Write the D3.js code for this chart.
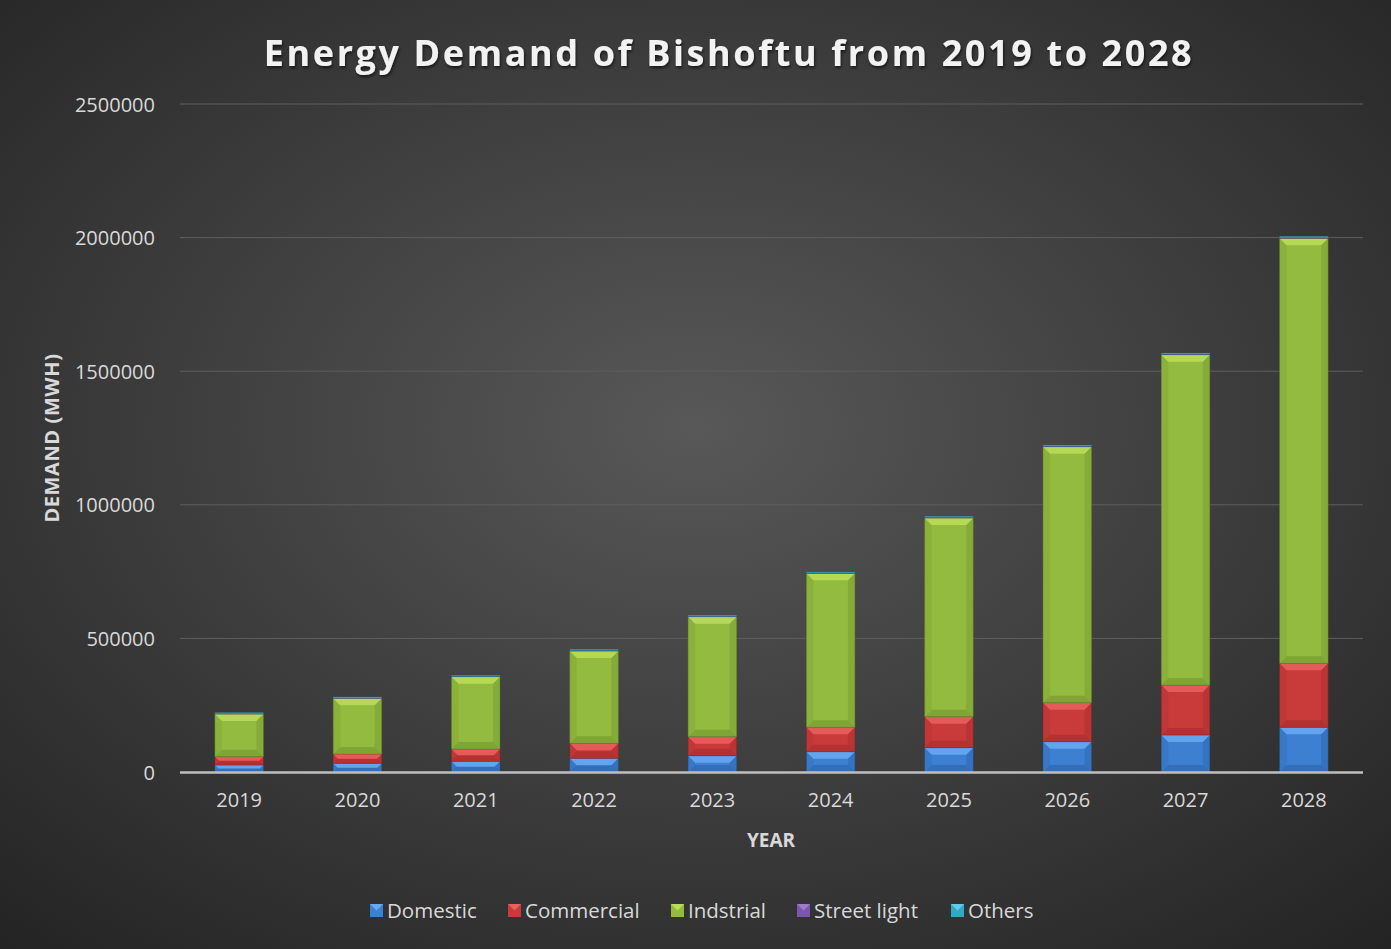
<!DOCTYPE html>
<html>
<head>
<meta charset="utf-8">
<script src="https://cdn.jsdelivr.net/npm/d3@7"></script>
<style>
  html, body { margin: 0; padding: 0; background: #2e2e2e; }
  svg { display: block; font-family: "Open Sans", Lato, sans-serif; }
</style>
</head>
<body>
<svg id="container" width="1391" height="949"></svg>
<script>
const years = ["2019", "2020", "2021", "2022", "2023", "2024", "2025", "2026", "2027", "2028"];
const seriesNames = ["Domestic", "Commercial", "Indstrial", "Street light", "Others"];
const domestic = [26200, 32600, 40000, 51300, 61000, 76000, 90900, 113400, 138500, 167300];
const commercial = [31100, 34800, 46100, 56100, 71100, 91300, 116100, 146000, 187100, 239500];
const industrial = [159700, 208400, 270600, 345400, 449100, 576300, 743600, 958000, 1236200, 1590600];
const streetLight = [1000, 1100, 1200, 1300, 1400, 1500, 1700, 1800, 2000, 2200];
const others = [3800, 3900, 3000, 4200, 3900, 3500, 4300, 4100, 4000, 4200];
const yTicks = [0, 500000, 1000000, 1500000, 2000000, 2500000];

const colors = {
  "Domestic": { base: "#3d7fd0", light: "#72b4fa", dark: "#1f4f8e" },
  "Commercial": { base: "#c93b3b", light: "#f06a68", dark: "#8a1f1f" },
  "Indstrial": { base: "#92bb40", light: "#c6e65e", dark: "#5e7d22" },
  "Street light": { base: "#7b56ad", light: "#a784d6", dark: "#4d3074" },
  "Others": { base: "#34a7c4", light: "#6fd4ee", dark: "#1e6f85" }
};

const svg = d3.select("#container");
const width = +svg.attr("width");
const height = +svg.attr("height");

// background
const defs = svg.append("defs");
const bg = defs.append("radialGradient").attr("id", "bg")
  .attr("cx", "50%").attr("cy", "45%").attr("r", "75%");
bg.append("stop").attr("offset", "0%").attr("stop-color", "#585858");
bg.append("stop").attr("offset", "100%").attr("stop-color", "#232323");
svg.append("rect").attr("width", width).attr("height", height).attr("fill", "url(#bg)");

const shadow = defs.append("filter").attr("id", "shadow").attr("x", "-5%").attr("y", "-20%").attr("width", "110%").attr("height", "150%");
shadow.append("feDropShadow").attr("dx", 1).attr("dy", 2).attr("stdDeviation", 1.5).attr("flood-color", "#000").attr("flood-opacity", 0.6);

const margin = { left: 180, right: 28, top: 104, bottom: 177 };
const x = d3.scaleBand().domain(years).range([margin.left, width - margin.right]).paddingInner(0.59).paddingOuter(0.295);
const y = d3.scaleLinear().domain([0, 2500000]).range([height - margin.bottom, margin.top]);

// gridlines
svg.append("g")
  .selectAll("line")
  .data(yTicks.slice(1))
  .enter()
  .append("line")
  .attr("x1", margin.left)
  .attr("x2", width - margin.right)
  .attr("y1", (d) => y(d))
  .attr("y2", (d) => y(d))
  .attr("stroke", "#5e5e5e")
  .attr("stroke-width", 1);

// y axis labels
const yAxis = svg.append("g")
  .attr("transform", `translate(${margin.left - 22},0)`)
  .call(d3.axisLeft(y).tickValues(yTicks).tickSize(0).tickFormat(d3.format("d")));
yAxis.select(".domain").remove();
yAxis.selectAll("text").attr("fill", "#d9d9d9").attr("font-size", 20).attr("font-family", "Open Sans").attr("dy", "0.35em");

// data
const table = years.map((yr, i) => ({
  year: yr,
  "Domestic": domestic[i],
  "Commercial": commercial[i],
  "Indstrial": industrial[i],
  "Street light": streetLight[i],
  "Others": others[i]
}));
const stacked = d3.stack().keys(seriesNames)(table);

const bars = svg.append("g");
stacked.forEach((layer) => {
  const c = colors[layer.key];
  const g = bars.append("g");
  layer.forEach((d) => {
    const x0 = x(d.data.year);
    const w = x.bandwidth();
    const y0 = y(d[1]);
    const h = y(d[0]) - y(d[1]);
    if (h <= 0) return;
    const b = Math.min(7, h / 2, w / 2);
    g.append("rect").attr("x", x0).attr("y", y0).attr("width", w).attr("height", h).attr("fill", c.base);
    const poly = (pts, fill, op) => g.append("polygon")
      .attr("points", pts.map((p) => p.join(",")).join(" "))
      .attr("fill", fill).attr("opacity", op);
    poly([[x0, y0], [x0 + b, y0 + b], [x0 + b, y0 + h - b], [x0, y0 + h]], c.dark, 0.15);
    poly([[x0 + w, y0], [x0 + w - b, y0 + b], [x0 + w - b, y0 + h - b], [x0 + w, y0 + h]], c.dark, 0.25);
    poly([[x0, y0 + h], [x0 + w, y0 + h], [x0 + w - b, y0 + h - b], [x0 + b, y0 + h - b]], c.dark, 0.35);
    poly([[x0, y0], [x0 + w, y0], [x0 + w - b, y0 + b], [x0 + b, y0 + b]], c.light, 0.7);
    g.append("rect").attr("x", x0).attr("y", y0).attr("width", w).attr("height", h)
      .attr("fill", "none").attr("stroke", c.dark).attr("stroke-opacity", 0.5).attr("stroke-width", 0.8);
  });
});

// x axis line
svg.append("line")
  .attr("x1", margin.left)
  .attr("x2", width - margin.right)
  .attr("y1", y(0) + 0.5)
  .attr("y2", y(0) + 0.5)
  .attr("stroke", "#bfbfbf")
  .attr("stroke-width", 2.5);

// x labels
const xAxis = svg.append("g")
  .attr("transform", `translate(0,${y(0) + 18})`)
  .call(d3.axisBottom(x).tickSize(0));
xAxis.select(".domain").remove();
xAxis.selectAll("text").attr("fill", "#d9d9d9").attr("font-size", 20).attr("font-family", "Open Sans").attr("dy", "0.71em");

// titles
const title = svg.append("text")
  .attr("x", 729)
  .attr("y", 66)
  .attr("text-anchor", "middle")
  .attr("fill", "#f2f2f2")
  .attr("font-size", 36)
  .attr("font-weight", "bold")
  .attr("letter-spacing", 0)
  .attr("filter", "url(#shadow)")
  .text("Energy Demand of Bishoftu from 2019 to 2028");
const titleLen = title.node().getComputedTextLength();
const titleChars = title.text().length;
title.attr("letter-spacing", Math.max(0, (928 - titleLen) / (titleChars - 1)));

svg.append("text")
  .attr("x", 771)
  .attr("y", 847)
  .attr("text-anchor", "middle")
  .attr("fill", "#d9d9d9")
  .attr("font-size", 19)
  .attr("font-weight", "bold")
  .text("YEAR");

svg.append("text")
  .attr("transform", "translate(59,438) rotate(-90)")
  .attr("text-anchor", "middle")
  .attr("fill", "#d9d9d9")
  .attr("font-size", 20)
  .attr("font-weight", "bold")
  .attr("letter-spacing", 0.6)
  .text("DEMAND (MWH)");

// legend
const legendX = [370, 508, 671, 797, 951];
const legend = svg.append("g")
  .selectAll("g")
  .data(seriesNames)
  .enter()
  .append("g")
  .attr("transform", (d, i) => `translate(${legendX[i]},904)`);
legend.append("rect").attr("width", 13).attr("height", 13).attr("fill", (d) => colors[d].base);
legend.append("polygon")
  .attr("points", "0,0 13,0 6.5,6.5")
  .attr("fill", (d) => colors[d].light)
  .attr("opacity", 0.8);
legend.append("text")
  .attr("x", 17)
  .attr("y", 7)
  .attr("dy", "0.35em")
  .attr("fill", "#d9d9d9")
  .attr("font-size", 20.5)
  .text((d) => d);
</script>
</body>
</html>
